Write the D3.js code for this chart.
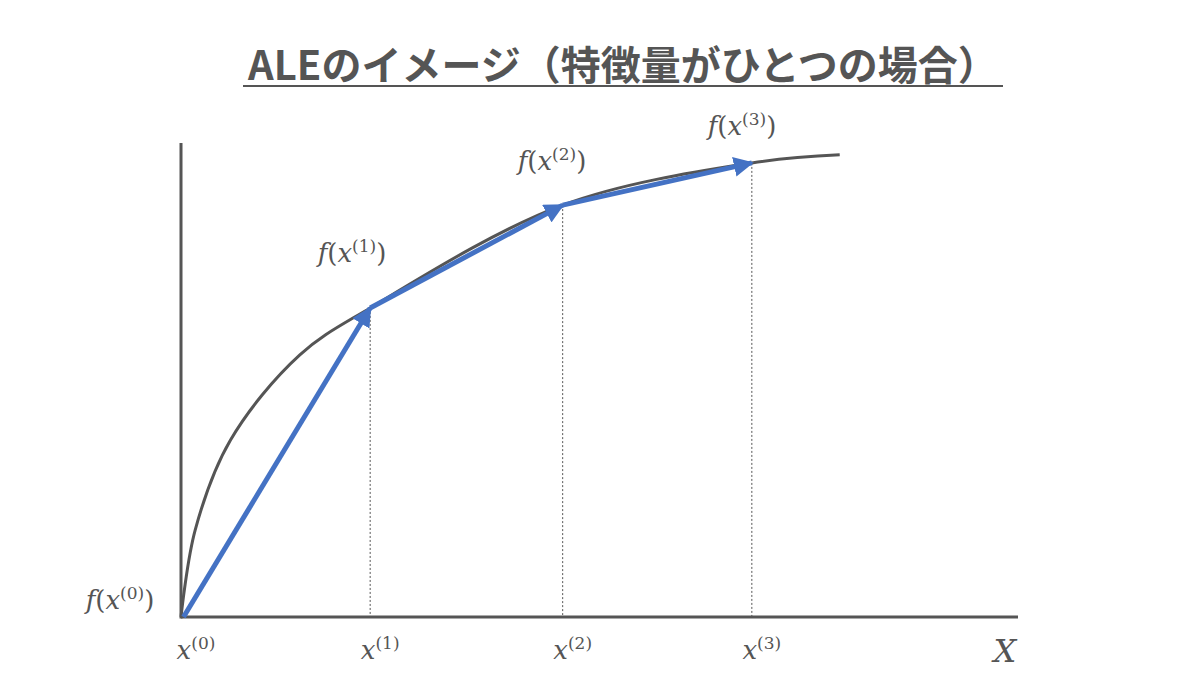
<!DOCTYPE html>
<html>
<head>
<meta charset="utf-8">
<script src="https://cdn.jsdelivr.net/npm/d3@7"></script>
<style>
  body { margin: 0; background: #fff; }
  svg text { fill: #555; }
</style>
</head>
<body>
<svg id="chart" width="1200" height="675"></svg>
<script>
// Curve samples (data units 0..100)
const curveX = [0, 1.7, 5.9, 14.2, 22.6, 45.6, 68.2, 78.7];
const curveY = [0, 18.4, 37.3, 55.3, 65.2, 86.9, 95.8, 97.5];

// Evaluation points x(0)..x(3)
const pointIdx = ['0', '1', '2', '3'];
const pointX = [0.3, 22.6, 45.6, 68.2];
const pointY = [0, 65.2, 86.9, 95.8];

const svg = d3.select('#chart');
const x = d3.scaleLinear().domain([0, 100]).range([181, 1018]);
const y = d3.scaleLinear().domain([0, 100]).range([617, 143]);

svg.append('defs').append('marker')
    .attr('id', 'arr').attr('viewBox', '0 0 10 10')
    .attr('refX', 9).attr('refY', 5)
    .attr('markerWidth', 4).attr('markerHeight', 4)
    .attr('orient', 'auto')
  .append('path').attr('d', 'M0,0L10,5L0,10z').attr('fill', '#4472c4');

// Title
svg.append('text')
    .attr('x', 623).attr('y', 80)
    .attr('text-anchor', 'middle')
    .style('font-family', '"Noto Sans CJK JP"')
    .style('font-weight', 'bold').style('font-size', '40px')
    .style('fill', '#555')
    .text('ALEのイメージ（特徴量がひとつの場合）');
svg.append('line')
    .attr('x1', 243).attr('x2', 1003).attr('y1', 86).attr('y2', 86)
    .attr('stroke', '#555').attr('stroke-width', 2);

// Dotted drop lines
svg.selectAll('.drop').data(pointX.slice(1)).join('line')
    .attr('x1', (d) => x(d)).attr('x2', (d) => x(d))
    .attr('y1', (d, i) => y(pointY[i + 1])).attr('y2', y(0))
    .attr('stroke', '#555').attr('stroke-width', 1)
    .attr('stroke-dasharray', '2,2');

// Curve
const pts = curveX.map((d, i) => [d, curveY[i]]);
svg.append('path').datum(pts)
    .attr('d', d3.line().x((d) => x(d[0])).y((d) => y(d[1])).curve(d3.curveCatmullRom.alpha(0.5)))
    .attr('fill', 'none').attr('stroke', '#555').attr('stroke-width', 3);

// Axes
svg.append('line')
    .attr('x1', x(0)).attr('x2', x(0)).attr('y1', y(0) + 1.5).attr('y2', y(100))
    .attr('stroke', '#555').attr('stroke-width', 3);
svg.append('line')
    .attr('x1', x(0)).attr('x2', x(100)).attr('y1', y(0)).attr('y2', y(0))
    .attr('stroke', '#555').attr('stroke-width', 3);

// Blue arrows
for (let i = 0; i < pointX.length - 1; i++) {
    svg.append('line')
        .attr('x1', x(pointX[i])).attr('y1', y(pointY[i]))
        .attr('x2', x(pointX[i + 1])).attr('y2', y(pointY[i + 1]))
        .attr('stroke', '#4472c4').attr('stroke-width', 5)
        .attr('marker-end', 'url(#arr)');
}

const mathFont = '"DejaVu Serif", serif';

function fLabel(px, py, k) {
    const t = svg.append('text')
        .attr('x', px).attr('y', py)
        .attr('text-anchor', 'middle')
        .style('font-family', mathFont).style('font-size', '26px');
    t.append('tspan').style('font-style', 'italic').text('f');
    t.append('tspan').text('(');
    t.append('tspan').style('font-style', 'italic').text('x');
    t.append('tspan').attr('dy', -10).style('font-size', '17px').text('(' + k + ')');
    t.append('tspan').attr('dy', 10).text(')');
}

function xLabel(px, k) {
    const t = svg.append('text')
        .attr('x', px).attr('y', 659)
        .attr('text-anchor', 'middle')
        .style('font-family', mathFont).style('font-size', '26px');
    t.append('tspan').style('font-style', 'italic').text('x');
    t.append('tspan').attr('dy', -10).style('font-size', '17px').text('(' + k + ')');
}

const fPos = [[120, 609], [352, 262], [552, 170], [742, 135]];
pointIdx.forEach((k, i) => {
    fLabel(fPos[i][0], fPos[i][1], k);
    xLabel(i === 0 ? 196 : x(pointX[i]) + 10, k);
});

svg.append('text')
    .attr('x', 1005).attr('y', 662)
    .attr('text-anchor', 'middle')
    .style('font-family', mathFont).style('font-style', 'italic')
    .style('font-size', '32px')
    .text('X');
</script>
</body>
</html>
